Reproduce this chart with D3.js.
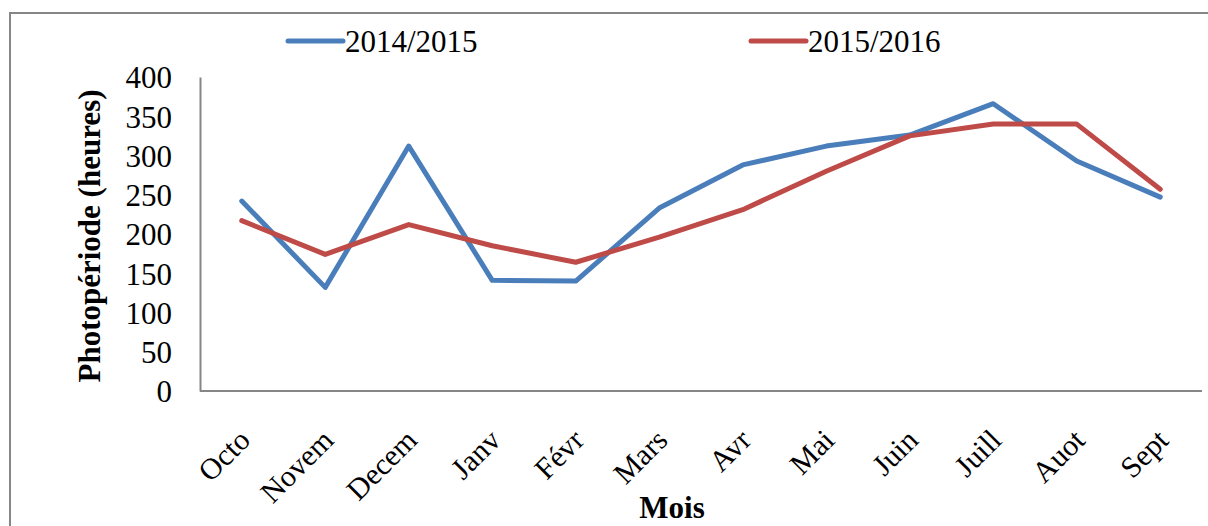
<!DOCTYPE html>
<html>
<head>
<meta charset="utf-8">
<script src="https://cdn.jsdelivr.net/npm/d3@7"></script>
<style>
  body { margin: 0; background: #fff; }
  svg text { font-family: "Liberation Serif", "Times New Roman", serif; fill: #000; }
</style>
</head>
<body>
<svg id="chart"></svg>
<script>
// mois (axe X)
const months = ["Octo", "Novem", "Decem", "Janv", "Févr", "Mars", "Avr", "Mai", "Juin", "Juill", "Auot", "Sept"];
// photopériode en heures
const serie1415 = [242, 132, 312, 141, 140, 233, 288, 312, 326, 366, 293, 247];
const serie1516 = [217, 174, 212, 185, 164, 196, 231, 280, 325, 340, 340, 257];
const seriesNames = ["2014/2015", "2015/2016"];
const yTicks = [0, 50, 100, 150, 200, 250, 300, 350, 400];

const W = 1208, H = 526;
const colors = ["#4A7EBB", "#BE4B48"];
const axisColor = "#868686";

const svg = d3.select("#chart").attr("width", W).attr("height", H);

// cadre extérieur
svg.append("rect")
	.attr("x", 10).attr("y", 13)
	.attr("width", 1210).attr("height", 540)
	.attr("fill", "none")
	.attr("stroke", axisColor)
	.attr("stroke-width", 2);

const x = d3.scalePoint().domain(months).range([200, 1202]).padding(0.5);
const y = d3.scaleLinear().domain([0, 400]).range([391, 77]);

// axe Y
const yAxis = svg.append("g")
	.attr("transform", "translate(200,0)")
	.call(d3.axisLeft(y).tickValues(yTicks).tickSize(0).tickPadding(28).tickSizeOuter(0));
yAxis.select(".domain").attr("stroke", axisColor).attr("stroke-width", 2);
yAxis.selectAll("text")
	.style("font-family", "Liberation Serif")
	.style("font-size", "31px")
	.attr("dy", "0.35em");

// axe X
const xAxis = svg.append("g")
	.attr("transform", "translate(0,391)")
	.call(d3.axisBottom(x).tickSize(0).tickSizeOuter(0).tickFormat(() => ""));
xAxis.select(".domain").attr("stroke", axisColor).attr("stroke-width", 2)
	.attr("d", "M200,0H1202");

svg.append("g")
	.selectAll("text")
	.data(months)
	.join("text")
	.attr("transform", (d) => `translate(${x(d) + 10},442) rotate(-45)`)
	.attr("text-anchor", "end")
	.style("font-size", "30px")
	.text((d) => d);

// titres des axes
svg.append("text")
	.attr("transform", "translate(100,236) rotate(-90)")
	.attr("text-anchor", "middle")
	.style("font-size", "31px")
	.style("font-weight", "bold")
	.text("Photopériode (heures)");

svg.append("text")
	.attr("x", 672).attr("y", 518)
	.attr("text-anchor", "middle")
	.style("font-size", "31px")
	.style("font-weight", "bold")
	.text("Mois");

// courbes
const line = d3.line()
	.x((d, i) => x(months[i]))
	.y((d) => y(d));

[serie1415, serie1516].forEach((s, i) => {
	svg.append("path")
		.datum(s)
		.attr("fill", "none")
		.attr("stroke", colors[i])
		.attr("stroke-width", 5)
		.attr("stroke-linejoin", "round")
		.attr("stroke-linecap", "round")
		.attr("d", line);
});

// légende
const legendX = [288, 751];
const legend = svg.append("g")
	.selectAll("g")
	.data(seriesNames)
	.join("g")
	.attr("transform", (d, i) => `translate(${legendX[i]},41)`);
legend.append("line")
	.attr("x1", 0).attr("x2", 55)
	.attr("stroke", (d, i) => colors[i])
	.attr("stroke-width", 5)
	.attr("stroke-linecap", "round");
legend.append("text")
	.attr("x", 57).attr("y", 11)
	.style("font-size", "31px")
	.text((d) => d);
</script>
</body>
</html>
